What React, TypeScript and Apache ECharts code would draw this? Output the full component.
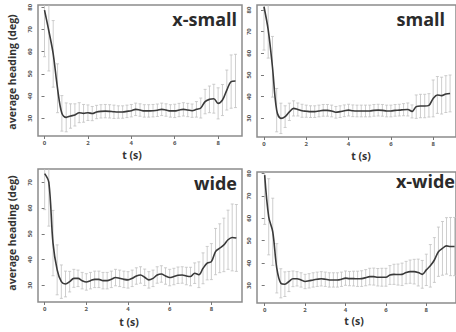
import React, { useEffect, useRef } from "react";
import * as echarts from "echarts";

// ---------- data ----------
const tXSmall = [0, 0.2, 0.4, 0.6, 0.8, 1.0, 1.2, 1.4, 1.6, 1.8, 2.0, 2.2, 2.4, 2.6, 2.8, 3.0, 3.2, 3.4, 3.6, 3.8, 4.0, 4.2, 4.4, 4.6, 4.8, 5.0, 5.2, 5.4, 5.6, 5.8, 6.0, 6.2, 6.4, 6.6, 6.8, 7.0, 7.2, 7.4, 7.6, 7.8, 8.0, 8.2, 8.4, 8.6, 8.8];
const meanXSmall = [78.7, 69.3, 59, 43.5, 32.2, 30.4, 31, 31.5, 32.5, 32.2,
  32.5, 32.1, 32.8, 33.1, 33.2, 33.1, 32.9, 32.8, 32.8, 33.1,
  33.4, 34, 33.7, 33.3, 33.3, 33.4, 33.6, 34, 33.7, 33.3,
  33.3, 33.7, 34, 33.7, 33.4, 34, 34.6, 37.5, 38.5, 38.8,
  36.7, 38.2, 42.7, 46.5, 46.8];
const errXSmall = [21, 18, 15, 11, 8, 6.5, 5.5, 5, 4.5, 4,
  3.5, 3.2, 3, 3, 3, 3, 3, 2.8, 2.8, 2.8,
  2.8, 2.8, 2.8, 2.8, 2.8, 2.8, 2.8, 2.8, 2.8, 2.8,
  3, 3, 3, 3, 3, 3.5, 4.5, 5.5, 6, 6.5,
  7, 7, 9, 12, 12];

const tSmall = [0, 0.2, 0.4, 0.6, 0.8, 1.0, 1.2, 1.4, 1.6, 1.8, 2.0, 2.2, 2.4, 2.6, 2.8, 3.0, 3.2, 3.4, 3.6, 3.8, 4.0, 4.2, 4.4, 4.6, 4.8, 5.0, 5.2, 5.4, 5.6, 5.8, 6.0, 6.2, 6.4, 6.6, 6.8, 7.0, 7.2, 7.4, 7.6, 7.8, 8.0, 8.2, 8.4, 8.6, 8.8];
const meanSmall = [81.5, 70.8, 53.8, 33.8, 30, 30.8, 33, 34.6, 34.1, 33.5,
  33.3, 33.1, 33.1, 33.4, 33.7, 33.7, 33.4, 32.8, 33.1, 33.5,
  33.8, 33.5, 33.4, 33.4, 33.4, 33.4, 33.7, 33.8, 33.7, 33.4,
  33.4, 33.7, 33.8, 34, 34.1, 33.2, 35.4, 35.7, 35.7, 36,
  39.2, 40.8, 40.5, 41.2, 41.5];
const errSmall = [20, 13, 14, 10, 7, 5, 4, 3.5, 3, 3,
  2.8, 2.7, 2.7, 2.7, 2.7, 2.7, 2.7, 2.7, 2.7, 2.7,
  2.7, 2.7, 2.7, 2.7, 2.7, 2.7, 2.7, 2.7, 2.7, 2.7,
  2.7, 2.7, 2.7, 2.8, 3, 3, 5.4, 5.4, 5.4, 5.4,
  8.5, 8.5, 8.5, 8.5, 8.5];

const tWide = [0, 0.2, 0.4, 0.6, 0.8, 1.0, 1.2, 1.4, 1.6, 1.8, 2.0, 2.2, 2.4, 2.6, 2.8, 3.0, 3.2, 3.4, 3.6, 3.8, 4.0, 4.2, 4.4, 4.6, 4.8, 5.0, 5.2, 5.4, 5.6, 5.8, 6.0, 6.2, 6.4, 6.6, 6.8, 7.0, 7.2, 7.4, 7.6, 7.8, 8.0, 8.2, 8.4, 8.6, 8.8, 9.0, 9.2];
const meanWide = [73.4, 70, 46.4, 36, 31.4, 30.5, 31.4, 32.7, 32.7, 31.8,
  31.3, 31.8, 32.3, 32.3, 31.8, 31.8, 32.3, 33, 32.7, 32.3,
  32.1, 32.7, 33.6, 34, 33.1, 32.1, 32.7, 34, 34.4, 33.6,
  33, 33.4, 33.9, 34, 33.6, 33.4, 34.7, 34.1, 36.6, 38.6,
  39.2, 43.1, 44.4, 45.7, 47.7, 48.6, 48.4];
const errWide = [14, 17, 12.7, 9.7, 6.5, 5, 4, 3.5, 3.2, 3.2,
  3.2, 3.2, 3.2, 3.2, 3.2, 3.2, 3.2, 3.2, 3.2, 3.2,
  3.2, 3.2, 3.2, 3.2, 3.2, 3.2, 3.2, 3.2, 3.2, 3.2,
  3.2, 3.2, 3.2, 3.2, 3.4, 3.6, 4, 5, 6, 6.5,
  7, 9, 9.5, 10.4, 11.5, 13, 13];

const tXWide = [0, 0.2, 0.4, 0.6, 0.8, 1.0, 1.2, 1.4, 1.6, 1.8, 2.0, 2.2, 2.4, 2.6, 2.8, 3.0, 3.2, 3.4, 3.6, 3.8, 4.0, 4.2, 4.4, 4.6, 4.8, 5.0, 5.2, 5.4, 5.6, 5.8, 6.0, 6.2, 6.4, 6.6, 6.8, 7.0, 7.2, 7.4, 7.6, 7.8, 8.0, 8.2, 8.4, 8.6, 8.8, 9.0, 9.2, 9.4];
const meanXWide = [79.3, 60.7, 54, 37.7, 31, 30.6, 31.8, 33, 33, 32.5,
  31.8, 32.1, 32.5, 32.8, 33, 32.8, 32.5, 32.5, 32.5, 32.8,
  33.3, 33.1, 33.1, 33, 33.1, 33.5, 34, 34, 33.7, 33.7,
  33.7, 34.7, 35, 34.9, 35, 35.8, 36.2, 36.2, 35.8, 35,
  37, 38.8, 41.4, 45.1, 46.6, 47.7, 47.4, 47.4];
const errXWide = [22, 17, 15, 11, 6.5, 5.5, 4.5, 3.5, 3.2, 3.2,
  3.2, 3.2, 3.2, 3.2, 3.2, 3.2, 3.2, 3.2, 3.2, 3.2,
  3.2, 3.2, 3.3, 3.4, 3.5, 3.6, 3.7, 3.8, 3.9, 4,
  4, 4.2, 4.5, 4.7, 5, 5, 5.2, 5.5, 6, 6.2,
  7, 9.5, 10, 11, 12, 12.6, 13, 13];

const panelTitles = ["x-small", "small", "wide", "x-wide"];
const xTicks = [0, 2, 4, 6, 8];
const yTicks = [30, 40, 50, 60, 70, 80];
const xLabel = "t (s)";
const yLabel = "average heading (deg)";

// ---------- layout ----------
const grids = [
  { left: 38, top: 5, width: 204, height: 131, xMin: -0.3, xMax: 9.1, yMin: 22, yMax: 81 },
  { left: 257, top: 5, width: 207, height: 132, xMin: -0.33, xMax: 9.08, yMin: 21.4, yMax: 82.3 },
  { left: 38, top: 169, width: 204, height: 133, xMin: -0.32, xMax: 9.47, yMin: 23.5, yMax: 75.2 },
  { left: 257, top: 172, width: 199, height: 131, xMin: -0.38, xMax: 9.47, yMin: 22.2, yMax: 80.7 },
];

const panels = [
  { t: tXSmall, m: meanXSmall, e: errXSmall },
  { t: tSmall, m: meanSmall, e: errSmall },
  { t: tWide, m: meanWide, e: errWide },
  { t: tXWide, m: meanXWide, e: errXWide },
];

const FONT = "Open Sans";

function errRender(params: any, api: any) {
  const t = api.value(0);
  const m = api.value(1);
  const e = api.value(2);
  const cs = params.coordSys;
  const top = api.coord([t, m + e]);
  const bot = api.coord([t, m - e]);
  const y0 = Math.max(cs.y, top[1]);
  const y1 = Math.min(cs.y + cs.height, bot[1]);
  const x = top[0];
  const style = { stroke: "#c2c2c2", lineWidth: 0.8 };
  const children: any[] = [
    { type: "line", shape: { x1: x, y1: y0, x2: x, y2: y1 }, style },
  ];
  if (top[1] >= cs.y) children.push({ type: "line", shape: { x1: x - 1.5, y1: y0, x2: x + 1.5, y2: y0 }, style });
  if (bot[1] <= cs.y + cs.height) children.push({ type: "line", shape: { x1: x - 1.5, y1: y1, x2: x + 1.5, y2: y1 }, style });
  return { type: "group", children };
}

export default function App() {
  const ref = useRef<HTMLDivElement>(null);
  useEffect(() => {
    if (!ref.current) return;
    const chart = echarts.init(ref.current, null, { renderer: "svg" });
    const titleStyle = { fontSize: 18, fontWeight: "bold", fontFamily: FONT, fill: "#2b2b2b", align: "right", verticalAlign: "middle" };
    const xNameStyle = { fontSize: 10.5, fontWeight: "bold", fontFamily: FONT, fill: "#333", align: "center", verticalAlign: "middle" };
    const yNameStyle = { fontSize: 10.5, fontWeight: "bold", fontFamily: FONT, fill: "#333", align: "center", verticalAlign: "middle" };
    const option: any = {
      animation: false,
      backgroundColor: "#ffffff",
      grid: grids.map((g) => ({
        left: g.left, top: g.top, width: g.width, height: g.height,
        show: true, borderColor: "#8c8c8c", borderWidth: 1.5, backgroundColor: "transparent",
      })),
      xAxis: grids.map((g, i) => ({
        type: "value", gridIndex: i, min: g.xMin, max: g.xMax,
        axisLine: { show: false }, splitLine: { show: false },
        axisTick: { show: true, customValues: xTicks, length: 3, lineStyle: { color: "#777", width: 1 } },
        axisLabel: { customValues: xTicks, fontSize: 6, color: "#555", margin: 4, fontWeight: "bold", fontFamily: FONT },
      })),
      yAxis: grids.map((g, i) => ({
        type: "value", gridIndex: i, min: g.yMin, max: g.yMax,
        axisLine: { show: false }, splitLine: { show: false },
        axisTick: { show: true, customValues: yTicks.filter((v) => v <= g.yMax), length: 3, lineStyle: { color: "#777", width: 1 } },
        axisLabel: { customValues: yTicks.filter((v) => v <= g.yMax), rotate: 90, fontSize: 6, color: "#555", margin: 5, fontWeight: "bold", fontFamily: FONT },
      })),
      series: panels.flatMap((p, i) => [
        {
          type: "custom", xAxisIndex: i, yAxisIndex: i, renderItem: errRender,
          data: p.t.map((t, k) => [t, p.m[k], p.e[k]]), z: 2, silent: true,
        },
        {
          type: "line", xAxisIndex: i, yAxisIndex: i, smooth: 0.35, showSymbol: false,
          data: p.t.map((t, k) => [t, p.m[k]]),
          lineStyle: { color: "#3a3a3a", width: 1.6 }, z: 3, silent: true,
        },
      ]),
      graphic: [
        { type: "text", x: 237, y: 19, style: { ...titleStyle, text: panelTitles[0] } },
        { type: "text", x: 445, y: 19, style: { ...titleStyle, text: panelTitles[1] } },
        { type: "text", x: 237, y: 183, style: { ...titleStyle, text: panelTitles[2] } },
        { type: "text", x: 455, y: 181, style: { ...titleStyle, text: panelTitles[3] } },
        { type: "text", x: 132, y: 155, style: { ...xNameStyle, text: xLabel } },
        { type: "text", x: 361, y: 156, style: { ...xNameStyle, text: xLabel } },
        { type: "text", x: 129, y: 322, style: { ...xNameStyle, text: xLabel } },
        { type: "text", x: 354, y: 321, style: { ...xNameStyle, text: xLabel } },
        { type: "text", x: 12, y: 72, rotation: Math.PI / 2, style: { ...yNameStyle, text: yLabel } },
        { type: "text", x: 12, y: 233, rotation: Math.PI / 2, style: { ...yNameStyle, text: yLabel } },
      ],
    };
    chart.setOption(option);
    return () => chart.dispose();
  }, []);
  return <div ref={ref} style={{ position: "absolute", left: 0, top: 0, width: 456, height: 332 }} />;
}
